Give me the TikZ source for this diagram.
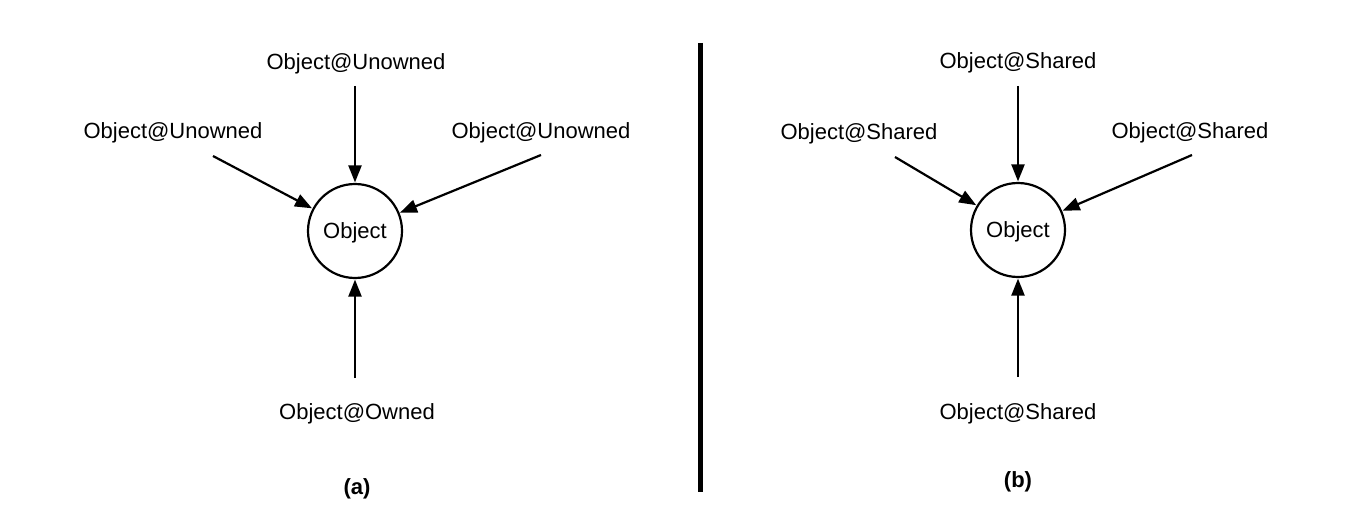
\documentclass[tikz,border=0pt]{standalone}
\usepackage{fontspec}
\setmainfont{Liberation Sans}
\usetikzlibrary{arrows.meta}
\begin{document}
\begin{tikzpicture}[x=1pt,y=-1pt,
  lbl/.style={font=\fontsize{22}{26}\selectfont, inner sep=0pt, yshift=-2.5pt},
  obj/.style={circle, draw, line width=2.2pt, minimum size=94pt, inner sep=0pt, font=\fontsize{22}{26}\selectfont, text depth=0pt},
  arr/.style={line width=2.2pt, -{Triangle[length=17pt,width=13pt]}, shorten >=0.5pt},
  captxt/.style={font=\fontsize{22}{26}\selectfont\bfseries, inner sep=0pt, yshift=-2.5pt}]
\useasboundingbox (0,0) rectangle (1356,532);
% (a)
\node[obj] (cA) at (355,231) {Object};
\node[lbl] (aT) at (356,61) {Object@Unowned};
\node[lbl] (aL) at (173,130) {Object@Unowned};
\node[lbl] (aR) at (541,130) {Object@Unowned};
\node[lbl] (aB) at (357,411) {Object@Owned};
\node[captxt] (capA) at (357,486) {(a)};
\coordinate (sAT) at (355,86);
\coordinate (sAL) at (213,156);
\coordinate (sAR) at (541,155);
\coordinate (sAB) at (355,378);
\draw[arr] (sAT) -- (cA);
\draw[arr] (sAL) -- (cA);
\draw[arr] (sAR) -- (cA);
\draw[arr] (sAB) -- (cA);
% separator
\coordinate (sepT) at (700,43);
\coordinate (sepB) at (700,492);
\draw[line width=5pt] (sepT) -- (sepB);
% (b)
\node[obj] (cB) at (1018,230) {Object};
\node[lbl] (bT) at (1018,60) {Object@Shared};
\node[lbl] (bL) at (859,131) {Object@Shared};
\node[lbl] (bR) at (1190,130) {Object@Shared};
\node[lbl] (bB) at (1018,411) {Object@Shared};
\node[captxt] (capB) at (1018,479) {(b)};
\coordinate (sBT) at (1018,86);
\coordinate (sBL) at (895,157);
\coordinate (sBR) at (1192,155);
\coordinate (sBB) at (1018,377);
\draw[arr] (sBT) -- (cB);
\draw[arr] (sBL) -- (cB);
\draw[arr] (sBR) -- (cB);
\draw[arr] (sBB) -- (cB);
\end{tikzpicture}
\end{document}
